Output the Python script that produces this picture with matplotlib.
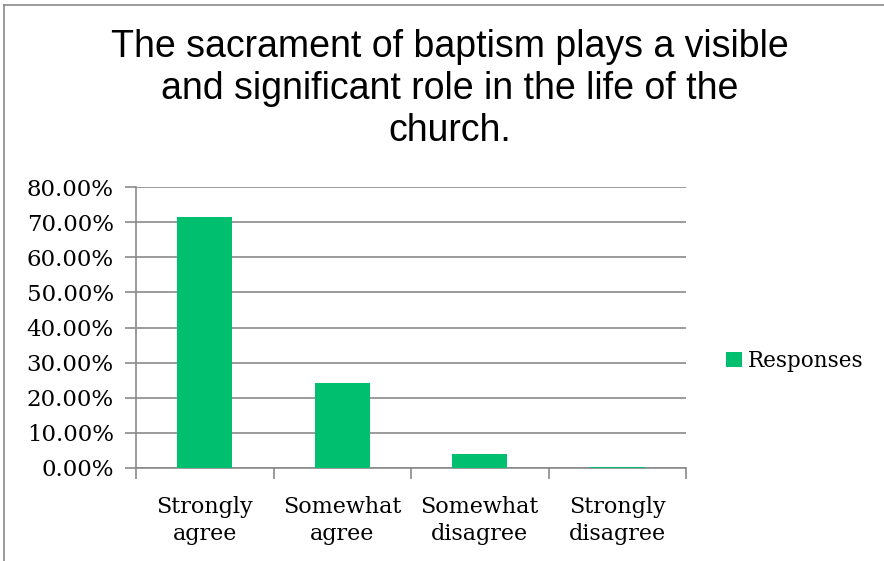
import matplotlib.pyplot as plt
from matplotlib.lines import Line2D
from matplotlib.ticker import FuncFormatter, FixedLocator

# survey answers, share of responses in percent
categories = ["Strongly\nagree", "Somewhat\nagree", "Somewhat\ndisagree", "Strongly\ndisagree"]
responses = [71.4, 24.2, 4.0, 0.3]
yticks = [0, 10, 20, 30, 40, 50, 60, 70, 80]

W, H = 884, 561
green = "#00bf6f"
gray = "#8a8a8a"

fig = plt.figure(figsize=(W / 100, H / 100), dpi=100)

# plot area in pixels: x 136..686, y 187..468
ax = fig.add_axes([136 / W, (H - 468) / H, 550 / W, 281 / H])
x = list(range(len(categories)))
ax.bar(x, responses, width=0.4, color=green, label="Responses", zorder=3)

ax.set_xlim(-0.5, len(categories) - 0.5)
ax.set_ylim(0, 80)
ax.set_yticks(yticks)
ax.yaxis.set_major_formatter(FuncFormatter(lambda v, p: "{:.2f}%".format(v)))
ax.grid(axis="y", color=gray, linewidth=1.2, zorder=0)

ax.set_xticks(x)
ax.set_xticklabels(categories, fontfamily="DejaVu Serif", fontsize=16, linespacing=1.3)
ax.xaxis.set_minor_locator(FixedLocator([i - 0.5 for i in range(len(categories) + 1)]))
ax.tick_params(axis="x", which="major", length=0, pad=20)
ax.tick_params(axis="x", which="minor", length=8, width=1.2, color=gray, direction="out")
ax.tick_params(axis="y", length=8, width=1.2, color=gray, direction="out", pad=8)
for lab in ax.get_yticklabels():
    lab.set_fontfamily("DejaVu Serif")
    lab.set_fontsize(16.5)

for s in ["top", "right"]:
    ax.spines[s].set_visible(False)
for s in ["left", "bottom"]:
    ax.spines[s].set_color(gray)
    ax.spines[s].set_linewidth(1.2)

fig.text(450 / W, 1 - 89 / H, "The sacrament of baptism plays a visible\nand significant role in the life of the\nchurch.",
         ha="center", va="center", fontsize=27, fontfamily="Liberation Sans", linespacing=1.2)

leg = fig.legend(*ax.get_legend_handles_labels(), loc="center left",
                 bbox_to_anchor=(717 / W, 1 - 361 / H), frameon=False, borderaxespad=0,
                 prop={"family": "DejaVu Serif", "size": 15.5},
                 handlelength=0.75, handleheight=0.75, handletextpad=0.3)

# chart frame (only top and left edges are visible)
fig.add_artist(Line2D([4 / W, 1], [1 - 5 / H, 1 - 5 / H], color=gray, linewidth=1.2))
fig.add_artist(Line2D([4 / W, 4 / W], [0, 1 - 5 / H], color=gray, linewidth=1.2))

fig.savefig("out.png", dpi=100)
